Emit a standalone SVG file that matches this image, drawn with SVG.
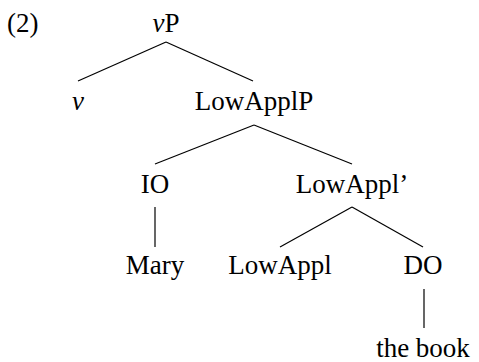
<svg xmlns="http://www.w3.org/2000/svg" width="479" height="362" viewBox="0 0 479 362">
<style>
text{font-family:"Liberation Serif","DejaVu Serif",serif;font-size:27px;fill:#000;text-anchor:middle}
.e line{stroke:#000;stroke-width:1.2}
</style>
<rect width="479" height="362" fill="#fff"/>
<g id="label"><text x="7" y="32" style="text-anchor:start">(2)</text></g>
<g class="e" id="connectors">
<line x1="166" y1="42" x2="78" y2="81"/>
<line x1="166" y1="42" x2="253" y2="81"/>
<line x1="254" y1="125" x2="155" y2="164"/>
<line x1="254" y1="125" x2="352" y2="164"/>
<line x1="155" y1="207" x2="155" y2="247"/>
<line x1="352" y1="207" x2="280" y2="247"/>
<line x1="352" y1="207" x2="423" y2="247"/>
<line x1="424" y1="289" x2="424" y2="328"/>
</g>
<g id="vP"><text x="166" y="32"><tspan font-style="italic">v</tspan>P</text></g>
<g id="v"><text x="78" y="110" font-style="italic">v</text></g>
<g id="LowApplP"><text x="254" y="110">LowApplP</text></g>
<g id="IO"><text x="155" y="193">IO</text></g>
<g id="LowApplBar"><text x="352" y="193">LowAppl’</text></g>
<g id="Mary"><text x="155" y="274">Mary</text></g>
<g id="LowAppl"><text x="280" y="274">LowAppl</text></g>
<g id="DO"><text x="423" y="274">DO</text></g>
<g id="thebook"><text x="423" y="357">the book</text></g>
</svg>
